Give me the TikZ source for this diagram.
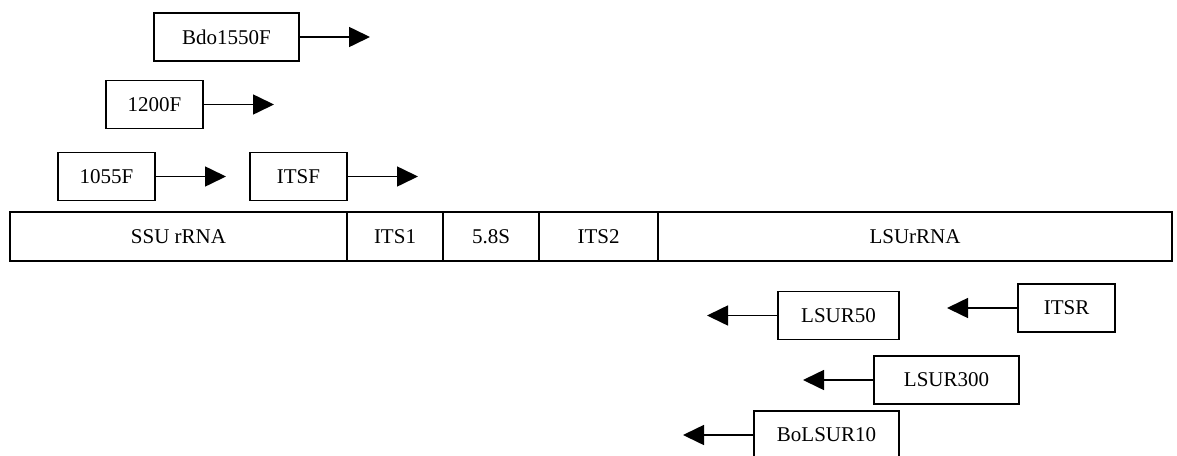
\documentclass[tikz,border=0pt]{standalone}
\usepackage{fontspec}
\setmainfont{Liberation Serif}
\usetikzlibrary{arrows.meta}
\tikzset{
  pbox/.style={draw, line width=1.5pt, minimum height=48pt, inner sep=0pt, outer sep=0pt, font=\fontsize{21}{25}\selectfont},
  seg/.style={draw, line width=1.5pt, minimum height=49pt, inner sep=0pt, outer sep=0pt, font=\fontsize{21}{25}\selectfont},
  parr/.style={line width=1.6pt, -{Triangle[length=21pt,width=20pt]}}
}
\begin{document}
\begin{tikzpicture}[x=1pt,y=-1pt]
\useasboundingbox (0,0) rectangle (1177,455);
% forward primers
\node[pbox, minimum width=145pt] (bdo) at (226.5,37) {Bdo1550F};
\node[pbox, minimum width=97pt] (f1200) at (154.5,104.5) {1200F};
\node[pbox, minimum width=97pt] (f1055) at (106.5,176.5) {1055F};
\node[pbox, minimum width=97pt] (itsf) at (298.5,176.5) {ITSF};
\coordinate (tbdo) at (370,37);
\coordinate (t1200) at (274,104.5);
\coordinate (t1055) at (226,176.5);
\coordinate (titsf) at (418,176.5);
\draw[parr] (bdo.east) -- (tbdo);
\draw[parr] (f1200.east) -- (t1200);
\draw[parr] (f1055.east) -- (t1055);
\draw[parr] (itsf.east) -- (titsf);
% rRNA operon bar
\node[seg, minimum width=337pt] (ssu) at (178.5,236.5) {SSU rRNA};
\node[seg, minimum width=96pt] (its1) at (395,236.5) {ITS1};
\node[seg, minimum width=96pt] (s58) at (491,236.5) {5.8S};
\node[seg, minimum width=119pt] (its2) at (598.5,236.5) {ITS2};
\node[seg, minimum width=514pt] (lsu) at (915,236.5) {LSUrRNA};
% reverse primers
\node[pbox, minimum width=121pt] (l50) at (838.5,315.5) {LSUR50};
\node[pbox, minimum width=97pt] (itsr) at (1066.5,308) {ITSR};
\node[pbox, minimum width=145pt] (l300) at (946.5,380) {LSUR300};
\node[pbox, minimum width=145pt] (bol) at (826.5,435) {BoLSUR10};
\coordinate (tl50) at (707,315.5);
\coordinate (titsr) at (947,308);
\coordinate (tl300) at (803,380);
\coordinate (tbol) at (683,435);
\draw[parr] (l50.west) -- (tl50);
\draw[parr] (itsr.west) -- (titsr);
\draw[parr] (l300.west) -- (tl300);
\draw[parr] (bol.west) -- (tbol);
\end{tikzpicture}
\end{document}
